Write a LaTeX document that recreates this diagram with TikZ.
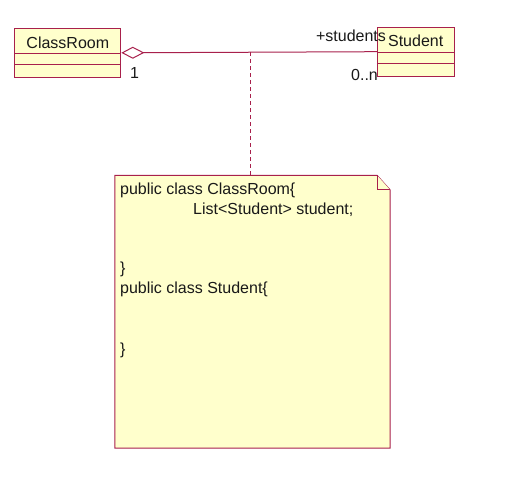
\documentclass[tikz,border=0pt]{standalone}
\usepackage{fontspec}
\setmainfont{Liberation Sans}
\usetikzlibrary{arrows.meta}
\definecolor{umlborder}{RGB}{168,32,76}
\definecolor{umlfill}{RGB}{255,255,204}
\definecolor{umltext}{RGB}{25,25,25}
\begin{document}
\begin{tikzpicture}[x=1pt,y=-1pt,
  classbox/.style={draw=umlborder,fill=umlfill,line width=1pt,inner sep=0pt,minimum height=49pt},
  txt/.style={font=\fontsize{16}{18}\selectfont,text=umltext,inner sep=0pt},
  assoc/.style={draw=umlborder,line width=1pt},
  notelink/.style={draw=umlborder,line width=1pt,dash pattern=on 4pt off 3pt},
  notebox/.style={draw=umlborder,fill=umlfill,line width=1pt,line join=miter}]
\useasboundingbox (0,0) rectangle (522,478);
% classes
\node[classbox,minimum width=106pt] (cr) at (67.8,52.8) {};
\draw[umlborder,line width=1pt] ([yshift=-26pt]cr.north west) -- ([yshift=-26pt]cr.north east);
\draw[umlborder,line width=1pt] ([yshift=-36.7pt]cr.north west) -- ([yshift=-36.7pt]cr.north east);
\node[txt] (crname) at ([yshift=-14.5pt]cr.north) {ClassRoom};
\node[classbox,minimum width=76.7pt,minimum height=48.7pt] (st) at (415.7,51.7) {};
\draw[umlborder,line width=1pt] ([yshift=-26pt]st.north west) -- ([yshift=-26pt]st.north east);
\draw[umlborder,line width=1pt] ([yshift=-36.7pt]st.north west) -- ([yshift=-36.7pt]st.north east);
\node[txt] (stname) at ([yshift=-14.4pt]st.north) {Student};
% association
\draw[assoc,{Diamond[open,length=23pt,width=12pt,line width=1pt]}-] (cr.east) -- (st.west);
\coordinate (mid) at (250,52.5);
\node[txt] (m1) at (134.5,73) {1};
\node[txt] (m2) at (364.5,74.5) {0..n};
\node[txt] (role) at (351,36) {+students};
% note
\node[inner sep=0pt,minimum width=275pt,minimum height=272.3pt] (note) at (252.5,311.85) {};
\draw[notebox] (note.north west) -- ([xshift=-13pt]note.north east) -- ([yshift=-14.5pt]note.north east) -- (note.south east) -- (note.south west) -- cycle;
\draw[notebox] ([xshift=-13pt]note.north east) -- ([xshift=-13pt,yshift=-14.5pt]note.north east) -- ([yshift=-14.5pt]note.north east);
\draw[notelink] (mid) -- (mid |- note.north);
\node[txt,anchor=west] (l1) at (120,190) {public class ClassRoom\{};
\node[txt,anchor=west] (l2) at (193,209.5) {List<Student> student;};
\node[txt,anchor=west] (l3) at (120,269) {\}};
\node[txt,anchor=west] (l4) at (120,289) {public class Student\{};
\node[txt,anchor=west] (l5) at (120,350) {\}};
\end{tikzpicture}
\end{document}
